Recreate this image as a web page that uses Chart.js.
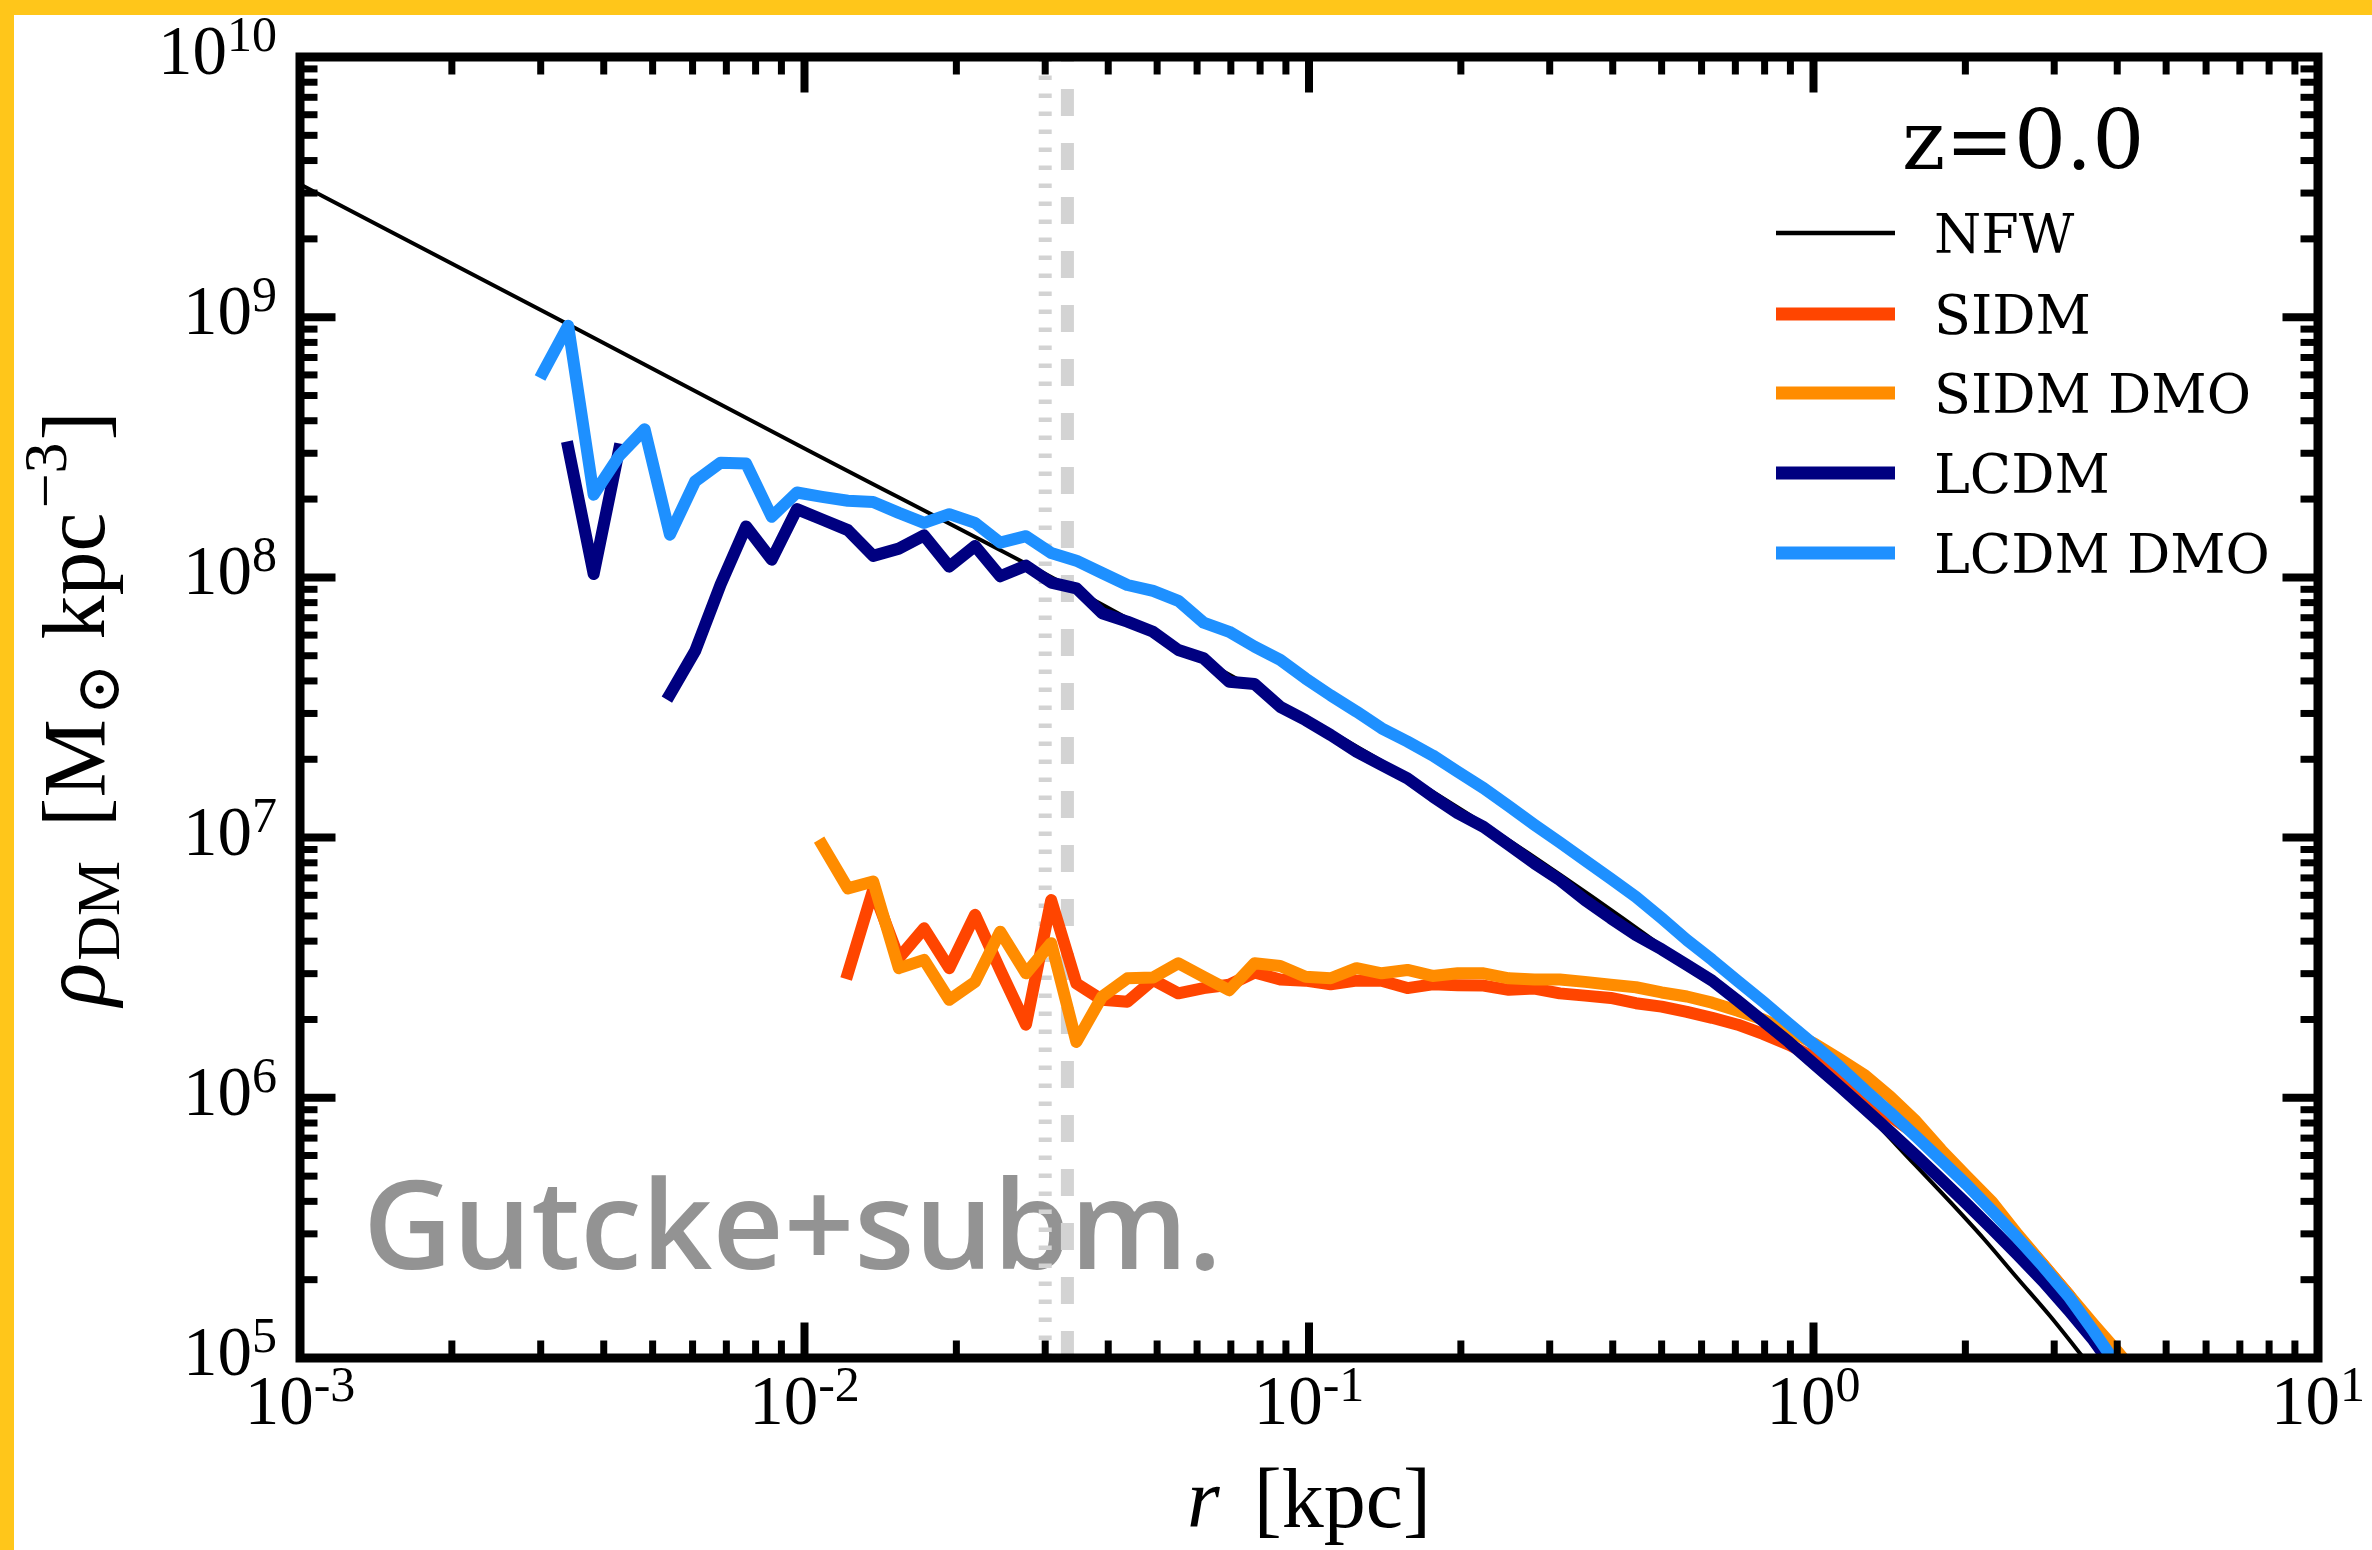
<!DOCTYPE html>
<html lang="en">
<head>
<meta charset="utf-8">
<title>Dark matter density profiles</title>
<script src="https://cdn.jsdelivr.net/npm/chart.js@4.4.1/dist/chart.umd.min.js"></script>
<style>
  html, body { margin: 0; padding: 0; background: #fff; }
  canvas { display: block; }
</style>
</head>
<body>
<canvas id="chart" width="2372" height="1550"></canvas>
<script>
// radial bins [kpc], shared by the four simulation profiles
const radius = [
  0.00303, 0.00340, 0.00382, 0.00429, 0.00482, 0.00541, 0.00607, 0.00682, 0.00766, 0.00861,
  0.00966, 0.01084, 0.01219, 0.01368, 0.01538, 0.01726, 0.01936, 0.02178, 0.02443, 0.02748,
  0.03083, 0.03459, 0.03890, 0.04365, 0.04909, 0.05508, 0.06180, 0.06950, 0.07798, 0.08770,
  0.09840, 0.1104, 0.1242, 0.1393, 0.1567, 0.1758, 0.1972, 0.2218, 0.2489, 0.2799,
  0.3141, 0.3524, 0.3963, 0.4446, 0.5000, 0.5610, 0.6295, 0.7079, 0.7943, 0.8933,
  1.002, 1.125, 1.265, 1.419, 1.596, 1.791, 2.009, 2.259, 2.535, 2.851,
  3.199, 3.589, 4.036, 4.529
];

// densities [Msun kpc^-3], null = empty bin
const rhoSIDM = [
  null, null, null, null, null, null, null, null, null, null,
  null, null, 3.01e6, 6.30e6, 3.44e6, 4.48e6, 3.15e6, 5.05e6, 3.10e6, 1.91e6,
  5.75e6, 2.75e6, 2.38e6, 2.34e6, 2.84e6, 2.52e6, 2.64e6, 2.72e6, 3.03e6, 2.85e6,
  2.82e6, 2.73e6, 2.82e6, 2.82e6, 2.64e6, 2.73e6, 2.71e6, 2.70e6, 2.60e6, 2.63e6,
  2.52e6, 2.47e6, 2.42e6, 2.31e6, 2.24e6, 2.14e6, 2.03e6, 1.91e6, 1.76e6, 1.60e6,
  1.43e6, 1.21e6, 1.00e6, 8.51e5, 7.24e5, 5.89e5, 4.73e5, 3.76e5, 2.95e5, 2.29e5,
  1.76e5, 1.29e5, 9.33e4, null
];
const rhoSIDMDMO = [
  null, null, null, null, null, null, null, null, null, null,
  null, 9.38e6, 6.38e6, 6.78e6, 3.15e6, 3.39e6, 2.38e6, 2.79e6, 4.35e6, 3.01e6,
  3.93e6, 1.64e6, 2.45e6, 2.88e6, 2.90e6, 3.29e6, 2.92e6, 2.59e6, 3.29e6, 3.21e6,
  2.92e6, 2.88e6, 3.15e6, 3.01e6, 3.10e6, 2.94e6, 3.01e6, 3.01e6, 2.88e6, 2.85e6,
  2.85e6, 2.79e6, 2.72e6, 2.66e6, 2.54e6, 2.45e6, 2.32e6, 2.16e6, 2.00e6, 1.81e6,
  1.62e6, 1.41e6, 1.22e6, 1.01e6, 8.13e5, 6.31e5, 5.01e5, 3.98e5, 3.00e5, 2.29e5,
  1.76e5, 1.35e5, 1.04e5, 7.94e4
];
const rhoLCDM = [
  null, 3.16e8, 1.03e8, 3.10e8, null, 3.55e7, 5.21e7, 9.40e7, 1.57e8, 1.17e8,
  1.83e8, 1.67e8, 1.52e8, 1.21e8, 1.29e8, 1.45e8, 1.10e8, 1.32e8, 1.01e8, 1.11e8,
  9.55e7, 9.08e7, 7.28e7, 6.76e7, 6.18e7, 5.26e7, 4.89e7, 3.97e7, 3.89e7, 3.18e7,
  2.83e7, 2.48e7, 2.14e7, 1.90e7, 1.69e7, 1.44e7, 1.24e7, 1.10e7, 9.38e6, 7.96e6,
  6.87e6, 5.75e6, 4.90e6, 4.22e6, 3.72e6, 3.24e6, 2.82e6, 2.36e6, 1.97e6, 1.64e6,
  1.35e6, 1.11e6, 9.06e5, 7.41e5, 6.00e5, 4.86e5, 3.92e5, 3.13e5, 2.50e5, 1.97e5,
  1.53e5, 1.17e5, 8.51e4, null
];
const rhoLCDMDMO = [
  6.12e8, 9.27e8, 2.08e8, 2.93e8, 3.71e8, 1.46e8, 2.34e8, 2.76e8, 2.74e8, 1.71e8,
  2.12e8, 2.04e8, 1.97e8, 1.95e8, 1.77e8, 1.62e8, 1.75e8, 1.62e8, 1.36e8, 1.44e8,
  1.24e8, 1.16e8, 1.04e8, 9.35e7, 8.87e7, 8.13e7, 6.70e7, 6.18e7, 5.42e7, 4.82e7,
  4.09e7, 3.52e7, 3.05e7, 2.63e7, 2.34e7, 2.07e7, 1.79e7, 1.55e7, 1.32e7, 1.12e7,
  9.59e6, 8.18e6, 6.95e6, 5.92e6, 4.90e6, 4.04e6, 3.39e6, 2.81e6, 2.34e6, 1.93e6,
  1.60e6, 1.32e6, 1.07e6, 8.79e5, 7.11e5, 5.75e5, 4.65e5, 3.68e5, 2.90e5, 2.25e5,
  1.73e5, 1.27e5, 9.12e4, null
];

// NFW fit
const nfwRadius = [0.001, 0.003162, 0.01, 0.03162, 0.05623, 0.1, 0.1778, 0.3162, 0.5623,
  1.0, 1.259, 1.585, 1.866, 2.173, 2.529, 2.944, 3.404, 3.981];
const rhoNFW = [3.24e9, 1.01e9, 3.13e8, 9.77e7, 5.31e7, 2.85e7, 1.48e7, 7.16e6, 3.24e6,
  1.38e6, 8.91e5, 5.56e5, 3.98e5, 2.88e5, 2.04e5, 1.45e5, 1.02e5, 6.92e4];

// resolution markers [kpc]
const rDotted = 0.0300;
const rDashed = 0.0332;

const legendLabels = ['NFW', 'SIDM', 'SIDM DMO', 'LCDM', 'LCDM DMO'];
const legendColors = ['#000000', '#ff4500', '#ff8c00', '#000080', '#1e90ff'];
const xTickExps = ['-3', '-2', '-1', '0', '1'];
const yTickExps = ['5', '6', '7', '8', '9', '10'];
const redshiftText = 'z=0.0';
const creditText = 'Gutcke+subm.';

const YELLOW = '#ffc61a';
const GREY = '#d3d3d3';
const MATH = '"Liberation Serif", "DejaVu Serif", serif';
const TEXT = '"DejaVu Serif", serif';

function toPoints(rs, vals) {
  return rs.map((r, i) => ({ x: r, y: vals[i] }));
}

function lineSet(label, data, color, width, order, extra) {
  return Object.assign({
    label: label,
    data: data,
    borderColor: color,
    backgroundColor: color,
    borderWidth: width,
    showLine: true,
    fill: false,
    pointRadius: 0,
    pointHoverRadius: 0,
    spanGaps: false,
    clip: 0,
    borderCapStyle: 'square',
    borderJoinStyle: 'round',
    order: order
  }, extra || {});
}

const datasets = [
  lineSet('LCDM DMO', toPoints(radius, rhoLCDMDMO), legendColors[4], 12, 0),
  lineSet('LCDM', toPoints(radius, rhoLCDM), legendColors[3], 12, 1),
  lineSet('SIDM DMO', toPoints(radius, rhoSIDMDMO), legendColors[2], 12, 2),
  lineSet('SIDM', toPoints(radius, rhoSIDM), legendColors[1], 12, 3),
  lineSet('NFW', toPoints(nfwRadius, rhoNFW), legendColors[0], 4, 4, { cubicInterpolationMode: 'monotone' }),
  lineSet('dashed', [{ x: rDashed, y: 1e5 }, { x: rDashed, y: 1e10 }], GREY, 13, 5,
    { borderDash: [27, 27], borderCapStyle: 'butt' }),
  lineSet('dotted', [{ x: rDotted, y: 1e5 }, { x: rDotted, y: 1e10 }], GREY, 13, 6,
    { borderDash: [4.5, 13.5], borderCapStyle: 'butt' })
];

// draws "10" with a raised exponent
function drawPower(ctx, exp, x, baseY, align) {
  ctx.font = '69px ' + MATH;
  const wb = ctx.measureText('10').width;
  ctx.font = '50px ' + MATH;
  const ws = ctx.measureText(exp).width;
  const x0 = align === 'center' ? x - (wb + ws) / 2 : x - (wb + ws);
  ctx.textAlign = 'left';
  ctx.textBaseline = 'alphabetic';
  ctx.font = '69px ' + MATH;
  ctx.fillText('10', x0, baseY);
  ctx.font = '50px ' + MATH;
  ctx.fillText(exp, x0 + wb, baseY - 23);
}

// pieces laid along one baseline: [text, font, baseline shift, gap before]
function drawPieces(ctx, pieces) {
  let cx = 0;
  pieces.forEach(function (p) {
    ctx.font = p[1];
    cx += p[3] || 0;
    ctx.fillText(p[0], cx, p[2]);
    cx += ctx.measureText(p[0]).width;
  });
}

const axesPlugin = {
  id: 'axesPlugin',
  beforeDraw(chart) {
    const ctx = chart.ctx;
    ctx.save();
    ctx.fillStyle = '#ffffff';
    ctx.fillRect(0, 0, chart.width, chart.height);
    ctx.fillStyle = YELLOW;
    ctx.fillRect(0, 0, chart.width, 15);
    ctx.fillRect(0, 0, 14, chart.height);
    ctx.restore();
  },
  beforeDatasetsDraw(chart) {
    const ctx = chart.ctx;
    ctx.save();
    const fam = '"Open Sans", Lato, sans-serif';
    let size = 130;
    ctx.font = '600 ' + size + 'px ' + fam;
    size = size * 859 / ctx.measureText(creditText).width;
    ctx.font = '600 ' + size + 'px ' + fam;
    ctx.fillStyle = '#939393';
    ctx.textBaseline = 'alphabetic';
    ctx.fillText(creditText, 363, 1269);
    ctx.restore();
  },
  afterDatasetsDraw(chart) {
    const ctx = chart.ctx;
    const a = chart.chartArea;
    const xs = chart.scales.x, ys = chart.scales.y;
    ctx.save();
    ctx.strokeStyle = '#000';
    ctx.lineCap = 'butt';
    const tick = function (p0x, p0y, dx, dy, len, w) {
      ctx.lineWidth = w;
      ctx.beginPath();
      ctx.moveTo(p0x, p0y);
      ctx.lineTo(p0x + dx * len, p0y + dy * len);
      ctx.stroke();
    };
    const xMajor = xTickExps.map(e => Number('1e' + e));
    xMajor.forEach(function (v, i) {
      const px = xs.getPixelForValue(v);
      tick(px, a.bottom, 0, -1, 35.5, 8);
      tick(px, a.top, 0, 1, 35.5, 8);
      if (i < xMajor.length - 1) {
        for (let m = 2; m <= 9; m++) {
          const mx = xs.getPixelForValue(m * v);
          tick(mx, a.bottom, 0, -1, 17.5, 7);
          tick(mx, a.top, 0, 1, 17.5, 7);
        }
      }
    });
    const yMajor = yTickExps.map(e => Number('1e' + e));
    yMajor.forEach(function (v, i) {
      const py = ys.getPixelForValue(v);
      tick(a.left, py, 1, 0, 35.5, 8);
      tick(a.right, py, -1, 0, 35.5, 8);
      if (i < yMajor.length - 1) {
        for (let m = 2; m <= 9; m++) {
          const my = ys.getPixelForValue(m * v);
          tick(a.left, my, 1, 0, 17.5, 7);
          tick(a.right, my, -1, 0, 17.5, 7);
        }
      }
    });
    ctx.lineWidth = 9;
    ctx.lineJoin = 'miter';
    ctx.strokeRect(a.left, a.top, a.right - a.left, a.bottom - a.top);
    ctx.restore();
  },
  afterDraw(chart) {
    const ctx = chart.ctx;
    const a = chart.chartArea;
    const xs = chart.scales.x, ys = chart.scales.y;
    ctx.save();
    ctx.fillStyle = '#000';

    // tick labels
    xTickExps.forEach(function (e) {
      drawPower(ctx, e, xs.getPixelForValue(Number('1e' + e)), a.bottom + 66, 'center');
    });
    yTickExps.forEach(function (e) {
      drawPower(ctx, e, 277, ys.getPixelForValue(Number('1e' + e)) + 17, 'right');
    });

    // x axis title
    ctx.textAlign = 'left';
    ctx.textBaseline = 'alphabetic';
    ctx.font = 'italic 84px ' + MATH;
    const wr = ctx.measureText('r').width;
    ctx.font = '84px ' + MATH;
    const wk = ctx.measureText('[kpc]').width;
    const xt0 = (a.left + a.right) / 2 - (wr + 34 + wk) / 2;
    ctx.save();
    ctx.translate(xt0, 1527);
    drawPieces(ctx, [
      ['r', 'italic 84px ' + MATH, 0, 0],
      ['[kpc]', '84px ' + MATH, 0, 34]
    ]);
    ctx.restore();

    // y axis title, rotated
    ctx.save();
    ctx.translate(104, 1006);
    ctx.rotate(-Math.PI / 2);
    drawPieces(ctx, [
      ['\u03c1', 'italic 90px ' + MATH, 0, 0],
      ['DM', '62px ' + MATH, 15, 2],
      ['[M', '88px ' + MATH, 0, 34],
      ['\u2299', '62px ' + TEXT, 15, 4],
      ['kpc', '88px ' + MATH, 0, 24],
      ['\u22123', '62px ' + MATH, -38, 4],
      [']', '88px ' + MATH, 0, 2]
    ]);
    ctx.restore();

    // redshift tag
    ctx.font = '82px ' + TEXT;
    ctx.fillText(redshiftText, 1902, 169);

    // legend
    const lineY = [233, 314, 393, 473, 553];
    legendLabels.forEach(function (lab, i) {
      ctx.strokeStyle = legendColors[i];
      ctx.lineWidth = i === 0 ? 4.5 : 13;
      ctx.lineCap = 'butt';
      ctx.beginPath();
      ctx.moveTo(1776, lineY[i]);
      ctx.lineTo(1895, lineY[i]);
      ctx.stroke();
      ctx.fillStyle = '#000';
      ctx.font = '54px ' + TEXT;
      ctx.fillText(lab, 1934, lineY[i] + 20);
    });
    ctx.restore();
  }
};

window.onload = function () {
  const ctx = document.getElementById('chart').getContext('2d');
  window.profileChart = new Chart(ctx, {
    type: 'scatter',
    data: { datasets: datasets },
    options: {
      responsive: false,
      animation: false,
      devicePixelRatio: 1,
      layout: { padding: { left: 300, right: 54, top: 57, bottom: 192 } },
      plugins: { legend: { display: false }, tooltip: { enabled: false } },
      events: [],
      scales: {
        x: { type: 'logarithmic', min: 1e-3, max: 10, display: false },
        y: { type: 'logarithmic', min: 1e5, max: 1e10, display: false }
      }
    },
    plugins: [axesPlugin]
  });
};
</script>
</body>
</html>
